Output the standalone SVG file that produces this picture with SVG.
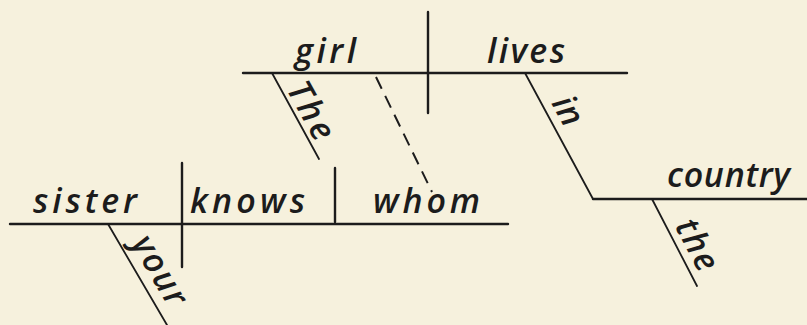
<svg xmlns="http://www.w3.org/2000/svg" width="807" height="325" viewBox="0 0 807 325">
<style>
.bg{fill:#f6f1dd}
.ln{stroke:#1c1c1c;stroke-width:2.4;fill:none;stroke-linecap:round}
.sl{stroke:#1c1c1c;stroke-width:1.8;fill:none;stroke-linecap:round}
.ds{stroke:#1c1c1c;stroke-width:2;fill:none;stroke-dasharray:13 8}
.w{font-family:"Open Sans","DejaVu Sans",sans-serif;font-style:italic;font-weight:600;font-size:34px;fill:#1c1c1c}
.m{text-anchor:middle}
</style>
<rect class="bg" width="807" height="325"/>
<g id="connectors">
  <line class="ln" x1="243" y1="73" x2="627" y2="73"/>
  <line class="ln" x1="428" y1="12" x2="428" y2="113"/>
  <line class="ln" x1="10" y1="224" x2="508" y2="224"/>
  <line class="ln" x1="182" y1="163" x2="182" y2="267"/>
  <line class="ln" x1="335" y1="168" x2="335" y2="222"/>
  <line class="ln" x1="593" y1="199" x2="807" y2="199"/>
  <line class="sl" x1="272" y1="73" x2="319" y2="159"/>
  <line class="sl" x1="525" y1="73" x2="593" y2="199"/>
  <line class="sl" x1="108" y1="224" x2="167" y2="325"/>
  <line class="sl" x1="652" y1="199" x2="697" y2="286"/>
  <line class="ds" x1="376" y1="77" x2="432" y2="192"/>
</g>
<g id="girl"><text class="w" x="295" y="63" textLength="61" lengthAdjust="spacing">girl</text></g>
<g id="lives"><text class="w" x="487" y="63" textLength="78" lengthAdjust="spacing">lives</text></g>
<g id="The"><text class="w m" transform="translate(301,116) rotate(61)" textLength="62" lengthAdjust="spacing">The</text></g>
<g id="in"><text class="w m" transform="translate(558,116) rotate(61.6)">in</text></g>
<g id="sister"><text class="w" x="33" y="213" textLength="104" lengthAdjust="spacing">sister</text></g>
<g id="knows"><text class="w" x="190" y="213" textLength="115" lengthAdjust="spacing">knows</text></g>
<g id="whom"><text class="w" x="373" y="213" textLength="107" lengthAdjust="spacing">whom</text></g>
<g id="your"><text class="w m" transform="translate(150,276) rotate(59.7)" textLength="76" lengthAdjust="spacing">your</text></g>
<g id="country"><text class="w" x="667" y="187" textLength="123" lengthAdjust="spacing">country</text></g>
<g id="the"><text class="w m" transform="translate(687,250) rotate(62.6)" textLength="54" lengthAdjust="spacing">the</text></g>
</svg>
